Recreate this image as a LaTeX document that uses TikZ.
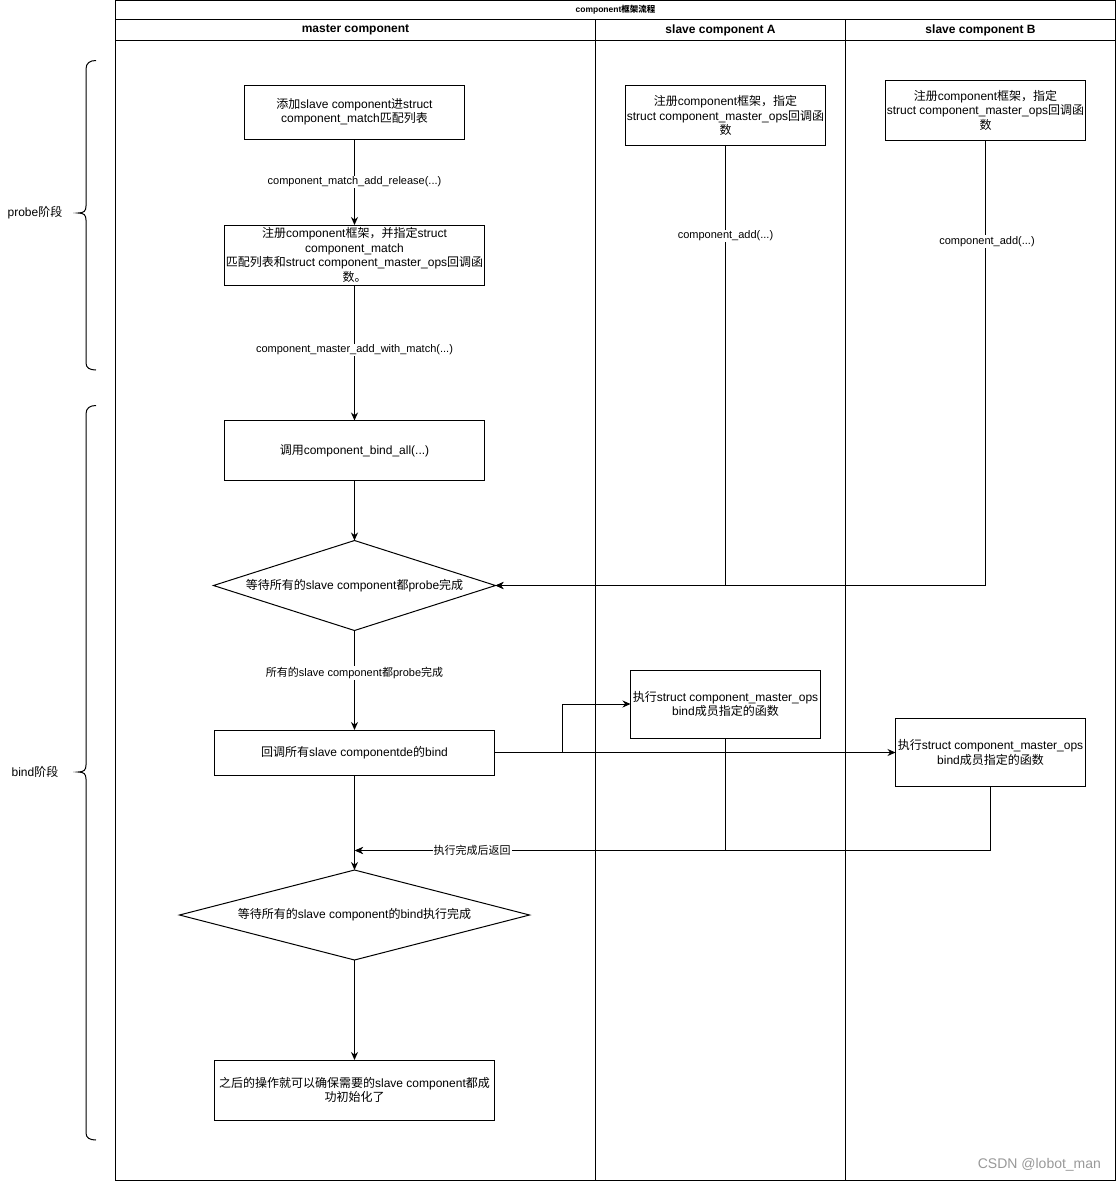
\documentclass[tikz,border=0pt]{standalone}
\usepackage{fontspec}
\setmainfont{Liberation Sans}
\newfontfamily\cjkfont{Noto Sans CJK SC}
\usetikzlibrary{arrows.meta,shapes.geometric}
\XeTeXinterchartokenstate=1
\newXeTeXintercharclass\cjkclass
\newcount\cjkcnt
\def\setcjkrange#1#2{\cjkcnt=#1\relax\loop\XeTeXcharclass\cjkcnt=\cjkclass\relax\ifnum\cjkcnt<#2\relax\advance\cjkcnt by 1\repeat}
\setcjkrange{"3000}{"303F}
\setcjkrange{"4E00}{"9FFF}
\setcjkrange{"FF00}{"FFEF}
\XeTeXinterchartoks 0 \cjkclass = {\cjkfont}
\XeTeXinterchartoks 4095 \cjkclass = {\cjkfont}
\XeTeXinterchartoks \cjkclass 0 = {\rmfamily}
\XeTeXinterchartoks \cjkclass 4095 = {\rmfamily}
\begin{document}
\begin{tikzpicture}[x=1pt,y=-1pt,
  every node/.style={inner sep=0pt, outer sep=0pt},
  ln/.style={line width=1pt, black},
  box/.style={draw, line width=1pt, rectangle},
  dia/.style={draw, line width=1pt, diamond, shape aspect=1},
  txt/.style={align=center, font=\fontsize{12}{14.5}\selectfont},
  lbl/.style={fill=white, inner sep=1pt, font=\fontsize{11}{13}\selectfont},
  hdr/.style={font=\bfseries\fontsize{12}{14}\selectfont},
  arr/.style={line width=1pt, -{Stealth[length=8pt,width=7pt]}}]
\useasboundingbox (0,0) rectangle (1116,1181);
\fill[white] (0,0) rectangle (1116,1181);

% pool and lanes
\draw[ln] (115.5,0.5) rectangle (1115.5,1180.5);
\draw[ln] (115.5,19.5) -- (1115.5,19.5);
\draw[ln] (115.5,40.5) -- (1115.5,40.5);
\draw[ln] (595.5,19.5) -- (595.5,1180.5);
\draw[ln] (845.5,19.5) -- (845.5,1180.5);
\node[font=\bfseries\fontsize{8.5}{10}\selectfont] (title) at (615.5,10) {component框架流程};
\node[hdr] (h1) at (355.5,30) {master component};
\node[hdr] (h2) at (720.5,30) {slave component A};
\node[hdr] (h3) at (980.5,30) {slave component B};

% braces
\draw[ln] (96,60.5) .. controls (90,60.5) and (86,63) .. (86,69) -- (86,206) .. controls (86,211) and (84,213) .. (78,213) .. controls (84,213) and (86,215) .. (86,220) -- (86,363) .. controls (86,368) and (90,370) .. (96,370);
\node[txt] (probe) at (35,213) {probe阶段};
\draw[ln] (96,405.5) .. controls (90,405.5) and (86,408) .. (86,414) -- (86,765) .. controls (86,770) and (84,772) .. (78,772) .. controls (84,772) and (86,774) .. (86,779) -- (86,1133) .. controls (86,1138) and (90,1140) .. (96,1140);
\node[txt] (bindp) at (35,772) {bind阶段};

% master column
\node[box, minimum width=220, minimum height=54] (b1) at (354.5,112) {};
\node[txt] at (b1) {添加slave component进struct\\component\_match匹配列表};
\node[box, minimum width=260, minimum height=60] (b2) at (354.5,255) {};
\node[txt] at (b2) {注册component框架，并指定struct\\component\_match\\匹配列表和struct component\_master\_ops回调函\\数。};
\node[box, minimum width=260, minimum height=60] (b3) at (354.5,450.5) {};
\node[txt] at (b3) {调用component\_bind\_all(...)};
\node[dia, minimum width=282, minimum height=90] (d1) at (354.5,585.5) {};
\node[txt] at (d1) {等待所有的slave component都probe完成};
\node[box, minimum width=280, minimum height=45] (b4) at (354.5,752.5) {};
\node[txt] at (b4) {回调所有slave componentde的bind};
\node[dia, minimum width=350, minimum height=90] (d2) at (354.5,915) {};
\node[txt] at (d2) {等待所有的slave component的bind执行完成};
\node[box, minimum width=280, minimum height=60] (b5) at (354.5,1090) {};
\node[txt] at (b5) {之后的操作就可以确保需要的slave component都成\\功初始化了};

% slave A
\node[box, minimum width=200, minimum height=60] (a1) at (725.5,115.5) {};
\node[txt] at (a1) {注册component框架，指定\\struct component\_master\_ops回调函\\数};
\node[box, minimum width=190, minimum height=68] (a2) at (725.5,704) {};
\node[txt] at (a2) {执行struct component\_master\_ops\\bind成员指定的函数};

% slave B
\node[box, minimum width=200, minimum height=60] (s1) at (985.5,110) {};
\node[txt] at (s1) {注册component框架，指定\\struct component\_master\_ops回调函\\数};
\node[box, minimum width=190, minimum height=68] (s2) at (990.5,752.5) {};
\node[txt] at (s2) {执行struct component\_master\_ops\\bind成员指定的函数};

% connectors
\draw[arr] (b1) -- (b2);
\node[lbl] (l1) at (354.5,182) {component\_match\_add\_release(...)};
\draw[arr] (b2) -- (b3);
\node[lbl] (l2) at (354.5,350) {component\_master\_add\_with\_match(...)};
\draw[arr] (b3) -- (d1);
\draw[arr] (d1) -- (b4);
\node[lbl] (l3) at (354.5,673) {所有的slave component都probe完成};
\draw[arr] (b4) -- (d2);
\draw[arr] (d2) -- (b5);

\draw[arr] (a1.south) |- (d1.east);
\node[lbl] (l4) at (725.5,236) {component\_add(...)};
\draw[arr] (s1.south) |- (d1.east);
\node[lbl] (l5) at (987,241.5) {component\_add(...)};

\coordinate (e1) at (562.5,752.5);
\draw[arr] (b4.east) -- (e1) |- (a2.west);
\draw[arr] (b4.east) -- (s2.west);

\coordinate (r) at (355,850.5);
\draw[arr] (a2.south) |- (r);
\draw[arr] (s2.south) |- (r);
\node[lbl] (l6) at (472,850.5) {执行完成后返回};

\node[anchor=east, text=black!40, font=\fontsize{14}{16}\selectfont] (wm) at (1101,1165) {CSDN @lobot\_man};
\end{tikzpicture}
\end{document}
